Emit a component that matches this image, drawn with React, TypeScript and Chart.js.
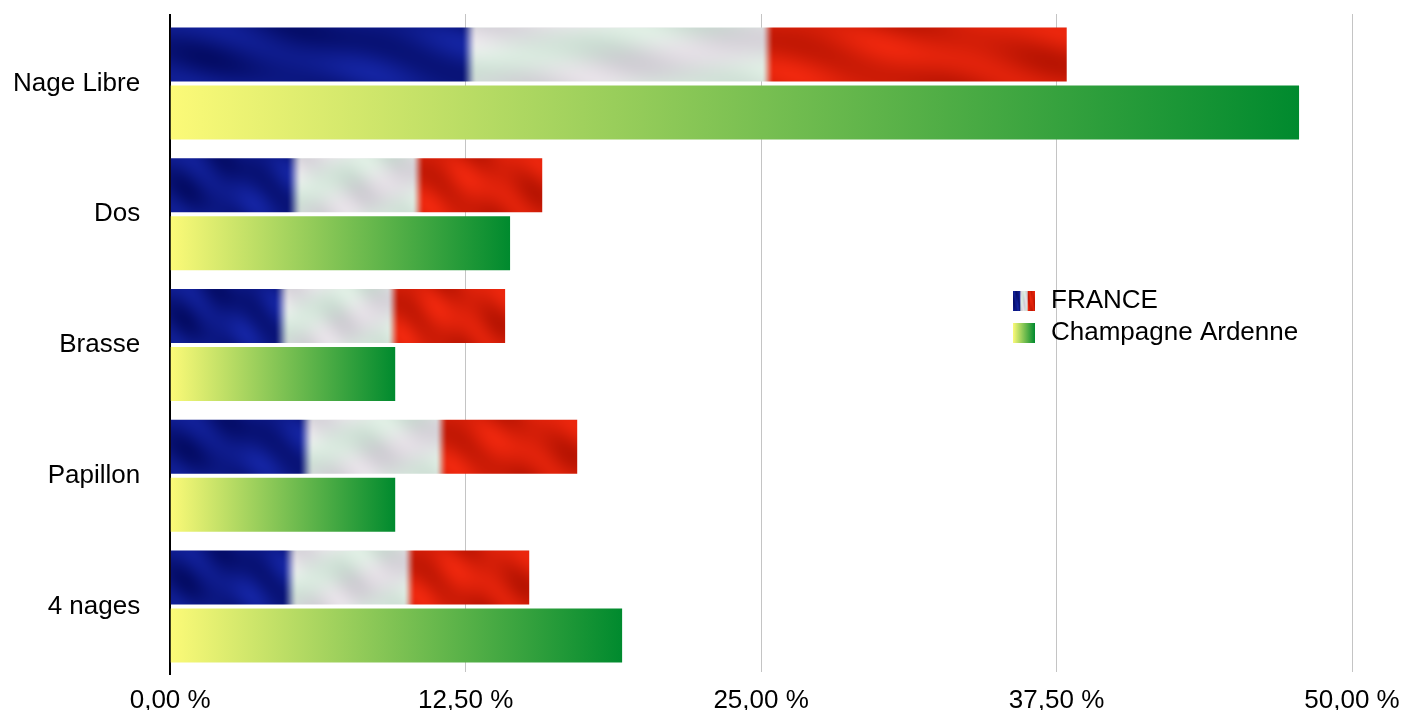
import React, { useEffect, useRef } from 'react';
import { Chart, registerables } from 'chart.js';

Chart.register(...registerables);

const categories = ['Nage Libre', 'Dos', 'Brasse', 'Papillon', '4 nages'];
const seriesNames = ['FRANCE', 'Champagne Ardenne'];
const franceValues = [37.93, 15.74, 14.17, 17.22, 15.19];
const champagneValues = [47.76, 14.38, 9.52, 9.52, 19.12];
const xTicks = [0, 12.5, 25, 37.5, 50];

const FONT = '"Liberation Sans", Arial, Helvetica, sans-serif';
const CAT_PCT = 0.887;
const BAR_PCT = 0.931;
const GRID = '#c4c4c4';
const GREEN_START = '#fcfa78';
const GREEN_END = '#008a2e';
const Y_PAD = 30;

const fmt = (v: number) => Number(v).toFixed(2).replace('.', ',') + ' %';

function smooth(t: number, a: number, b: number) {
  const x = Math.min(1, Math.max(0, (t - a) / (b - a)));
  return x * x * (3 - 2 * x);
}

const texCache = new Map<string, HTMLCanvasElement>();

function makeFlagTexture(w: number, h: number): HTMLCanvasElement {
  const Wf = Math.max(2, w);
  const Hf = Math.max(2, h);
  const W = Math.ceil(Wf) + 3;
  const H = Math.ceil(Hf) + 3;
  const key = Wf.toFixed(2) + 'x' + Hf.toFixed(2);
  const cached = texCache.get(key);
  if (cached) return cached;
  const c = document.createElement('canvas');
  c.width = W;
  c.height = H;
  const g = c.getContext('2d')!;
  const img = g.createImageData(W, H);
  const half = Math.min(0.04, 8 / Wf);
  for (let y = 0; y < H; y++) {
    for (let x = 0; x < W; x++) {
      const t = Math.min(1, (x + 0.5) / Wf);
      const u = t * 600;
      const v = (Math.min(Hf, y + 0.5) / Hf) * 54;
      const n =
        0.5 * Math.sin(u * 0.045 - v * 0.11 + 0.7) +
        0.3 * Math.sin(u * 0.021 + v * 0.07 + 2.1) +
        0.2 * Math.sin(u * 0.09 - v * 0.05 + 4.0);
      const m = Math.sin(u * 0.03 + v * 0.09 + 1.3);
      const s1 = smooth(t, 1 / 3 - half, 1 / 3 + half);
      const s2 = smooth(t, 2 / 3 - half * 0.8, 2 / 3 + half * 0.8);
      const blue = [12 + 8 * n, 24 + 12 * n, 132 + 30 * n];
      const white = [218 + 16 * n + 6 * m, 224 + 14 * n - 4 * m, 222 + 14 * n + 4 * m];
      const red = [212 + 28 * n, 30 + 10 * n, 8 + 6 * n];
      const i = (y * W + x) * 4;
      for (let k = 0; k < 3; k++) {
        const a = blue[k] * (1 - s1) + white[k] * s1;
        const b = a * (1 - s2) + red[k] * s2;
        img.data[i + k] = Math.max(0, Math.min(255, Math.round(b)));
      }
      img.data[i + 3] = 255;
    }
  }
  g.putImageData(img, 0, 0);
  texCache.set(key, c);
  return c;
}

function barGeometry(chart: any, index: number, datasetIdx: number) {
  const ys = chart.scales.y;
  const catSize = (ys.bottom - ys.top) / categories.length;
  const pair = catSize * CAT_PCT;
  const slot = pair / 2;
  const bar = slot * BAR_PCT;
  const center = ys.getPixelForValue(index);
  const top = center - pair / 2 + slot * datasetIdx + (slot - bar) / 2;
  return { top, bar };
}

const alignPx = (p: number) => Math.round(p - 0.5) + 0.5;

const extrasPlugin = {
  id: 'extras',
  beforeDatasetsDraw(chart: any) {
    const c = chart.ctx;
    const xs = chart.scales.x;
    const { top, bottom, left } = chart.chartArea;
    c.save();
    c.strokeStyle = GRID;
    c.lineWidth = 1;
    for (const v of xTicks.slice(1)) {
      const px = alignPx(xs.getPixelForValue(v));
      c.beginPath();
      c.moveTo(px, top - 4);
      c.lineTo(px, top);
      c.stroke();
    }
    c.strokeStyle = '#000';
    c.lineWidth = 2;
    c.beginPath();
    c.moveTo(Math.round(left), top - 4);
    c.lineTo(Math.round(left), bottom + 3);
    c.stroke();
    c.restore();
  },
  afterDraw(chart: any) {
    const c = chart.ctx;
    c.save();
    const sx = 1013;
    const tex = makeFlagTexture(22, 20);
    c.drawImage(tex, 0, 0, 22, 20, sx, 291, 22, 20);
    const g = c.createLinearGradient(sx, 0, sx + 22, 0);
    g.addColorStop(0, GREEN_START);
    g.addColorStop(1, GREEN_END);
    c.fillStyle = g;
    c.fillRect(sx, 323, 22, 20);
    c.fillStyle = '#000';
    c.font = `26px ${FONT}`;
    c.textBaseline = 'middle';
    c.textAlign = 'left';
    c.fillText(seriesNames[0], 1051, 301);
    c.fillText(seriesNames[1], 1051, 333);
    c.restore();
  },
};

export default function App() {
  const ref = useRef<HTMLCanvasElement | null>(null);

  useEffect(() => {
    if (!ref.current) return;
    const chart = new Chart(ref.current, {
      type: 'bar',
      data: {
        labels: categories,
        datasets: [
          {
            label: seriesNames[0],
            data: franceValues,
            categoryPercentage: CAT_PCT,
            barPercentage: BAR_PCT,
            borderWidth: 0,
            backgroundColor: (ctx: any) => {
              const chart = ctx.chart;
              if (ctx.type !== 'data' || !chart.chartArea) return '#1a2a9a';
              const xs = chart.scales.x;
              const left = xs.getPixelForValue(0);
              const right = xs.getPixelForValue(ctx.raw);
              const { top, bar } = barGeometry(chart, ctx.dataIndex, 0);
              const tex = makeFlagTexture(right - left, bar);
              const pat = chart.ctx.createPattern(tex, 'repeat');
              pat.setTransform(new DOMMatrix([1, 0, 0, 1, left, top]));
              return pat;
            },
          },
          {
            label: seriesNames[1],
            data: champagneValues,
            categoryPercentage: CAT_PCT,
            barPercentage: BAR_PCT,
            borderWidth: 0,
            backgroundColor: (ctx: any) => {
              const chart = ctx.chart;
              if (ctx.type !== 'data' || !chart.chartArea) return '#7cc150';
              const xs = chart.scales.x;
              const left = xs.getPixelForValue(0);
              const right = xs.getPixelForValue(ctx.raw);
              const g = chart.ctx.createLinearGradient(left, 0, right, 0);
              g.addColorStop(0, GREEN_START);
              g.addColorStop(1, GREEN_END);
              return g;
            },
          },
        ],
      },
      options: {
        indexAxis: 'y',
        responsive: false,
        animation: false,
        events: [],
        layout: { padding: { left: 13, right: 52, top: 18, bottom: 0 } },
        plugins: {
          legend: { display: false },
          tooltip: { enabled: false },
        },
        scales: {
          x: {
            min: 0,
            max: 50,
            afterBuildTicks: (s: any) => {
              s.ticks = xTicks.map((value) => ({ value }));
            },
            afterFit: (s: any) => {
              s.height = 38;
              s.paddingLeft = 0;
              s.paddingRight = 0;
            },
            grid: { color: GRID, lineWidth: 1, drawTicks: false },
            border: { display: false },
            ticks: {
              color: '#000',
              font: { family: FONT, size: 26 },
              padding: 13,
              maxRotation: 0,
              autoSkip: false,
              callback: (v: any) => fmt(Number(v)),
            },
          },
          y: {
            afterFit: (s: any) => {
              s.width = s.width - Y_PAD;
              s.paddingTop = 0;
              s.paddingBottom = 0;
            },
            grid: { display: false, drawTicks: false },
            border: { display: true, color: '#000', width: 2 },
            ticks: {
              color: '#000',
              font: { family: FONT, size: 26 },
              padding: Y_PAD,
            },
          },
        },
      },
      plugins: [extrasPlugin],
    } as any);
    return () => chart.destroy();
  }, []);

  return (
    <div style={{ position: 'fixed', left: 0, top: 0, width: 1404, height: 710, background: '#fff' }}>
      <canvas ref={ref} width={1404} height={710} style={{ display: 'block' }} />
    </div>
  );
}
